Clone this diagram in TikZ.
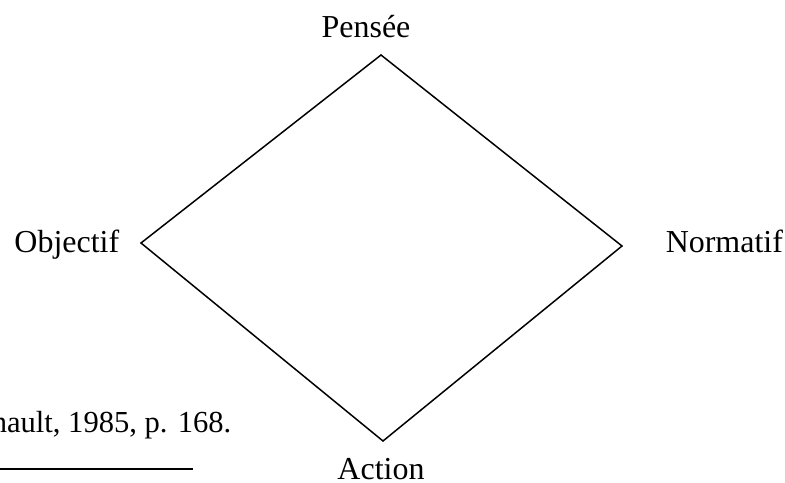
\documentclass[tikz,border=0pt]{standalone}
\usepackage{fontspec}
\setmainfont{Liberation Serif}
\begin{document}
\begin{tikzpicture}[x=0.02cm, y=-0.02cm, line width=0.85pt,
  lbl/.style={inner sep=0pt, font=\fontsize{18.2}{20}\selectfont},
  cite/.style={inner sep=0pt, font=\fontsize{17.4}{19}\selectfont}]
  \useasboundingbox (0,0) rectangle (785,483);
  % sommets du losange
  \coordinate (pen) at (381,55);
  \coordinate (obj) at (141,243);
  \coordinate (nor) at (622,246);
  \coordinate (act) at (383,441);
  \draw (pen) -- (nor) -- (act) -- (obj) -- cycle;
  % étiquettes
  \node[lbl, anchor=base] (tpen) at (366,38) {Pensée};
  \node[lbl, anchor=base east] (tobj) at (120,253) {Objectif};
  \node[lbl, anchor=base west] (tnor) at (665,253) {Normatif};
  \node[lbl, anchor=base] (tact) at (381,479) {Action};
  % source
  \node[cite, anchor=base east] (src) at (232,432) {nault, 1985, p. 168.};
  \coordinate (r0) at (0,469); \coordinate (r1) at (193,469);
  \draw (r0) -- (r1);
\end{tikzpicture}
\end{document}
